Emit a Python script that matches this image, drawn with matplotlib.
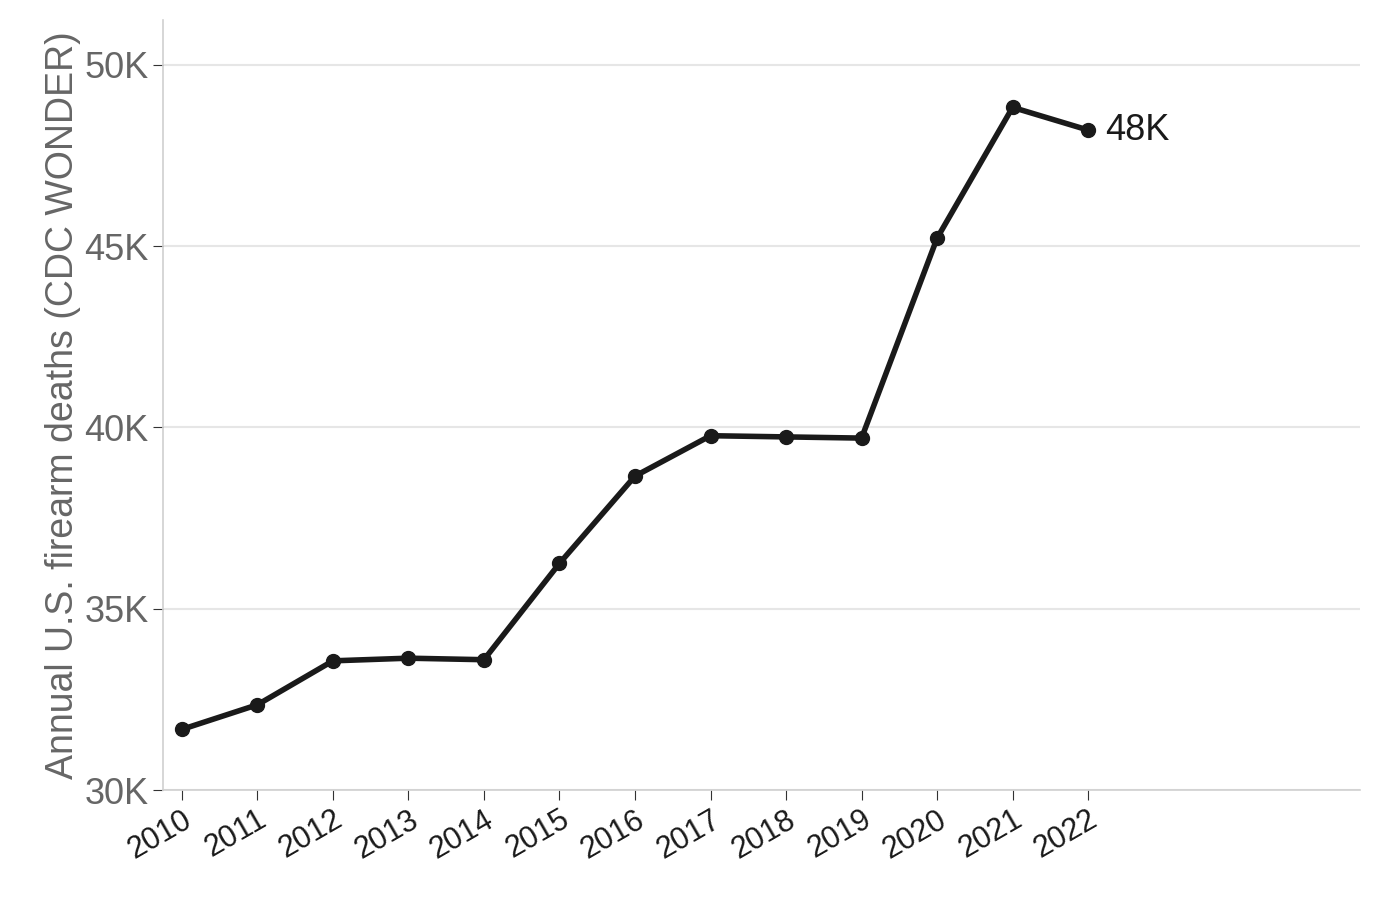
import matplotlib
matplotlib.use("Agg")
import matplotlib.pyplot as plt

years = [2010, 2011, 2012, 2013, 2014, 2015, 2016, 2017, 2018, 2019, 2020, 2021, 2022]
deaths = [31672, 32351, 33563, 33636, 33594, 36252, 38658, 39773, 39740, 39707, 45222, 48830, 48204]
y_ticks = [30000, 35000, 40000, 45000, 50000]
y_labels = ["30K", "35K", "40K", "45K", "50K"]

plt.rcParams['font.family'] = ['Liberation Sans', 'DejaVu Sans']

fig = plt.figure(figsize=(13.8, 8.99), dpi=100)
ax = fig.add_axes([163/1380, 1 - 790/899, (1360-163)/1380, (790-20)/899])

ax.plot(years, deaths, color='#1a1a1a', lw=4, marker='o', ms=10, zorder=3)
ax.text(years[-1] + 0.22, deaths[-1], "48K", fontsize=26, va='center', color='#1a1a1a')

ax.set_xlim(2009.75, 2025.6)
ax.set_ylim(30000, 51240)
ax.set_yticks(y_ticks)
ax.set_yticklabels(y_labels)
ax.set_xticks(years)
ax.set_xticklabels([str(y) for y in years], rotation=30, ha='right', rotation_mode='anchor')
ax.grid(axis='y', color='#e6e6e6', lw=1.5)
ax.set_axisbelow(True)

for s in ['top', 'right']:
    ax.spines[s].set_visible(False)
for s in ['left', 'bottom']:
    ax.spines[s].set_color('#d0d0d0')
    ax.spines[s].set_linewidth(1.2)

ax.tick_params(axis='y', labelsize=26, labelcolor='#666666', color='#333333', length=7)
ax.tick_params(axis='x', labelsize=22, labelcolor='#1a1a1a', color='#333333', length=7)
ax.set_ylabel("Annual U.S. firearm deaths (CDC WONDER)", fontsize=27, color='#666666', labelpad=2)

fig.savefig("out.png", dpi=100)
